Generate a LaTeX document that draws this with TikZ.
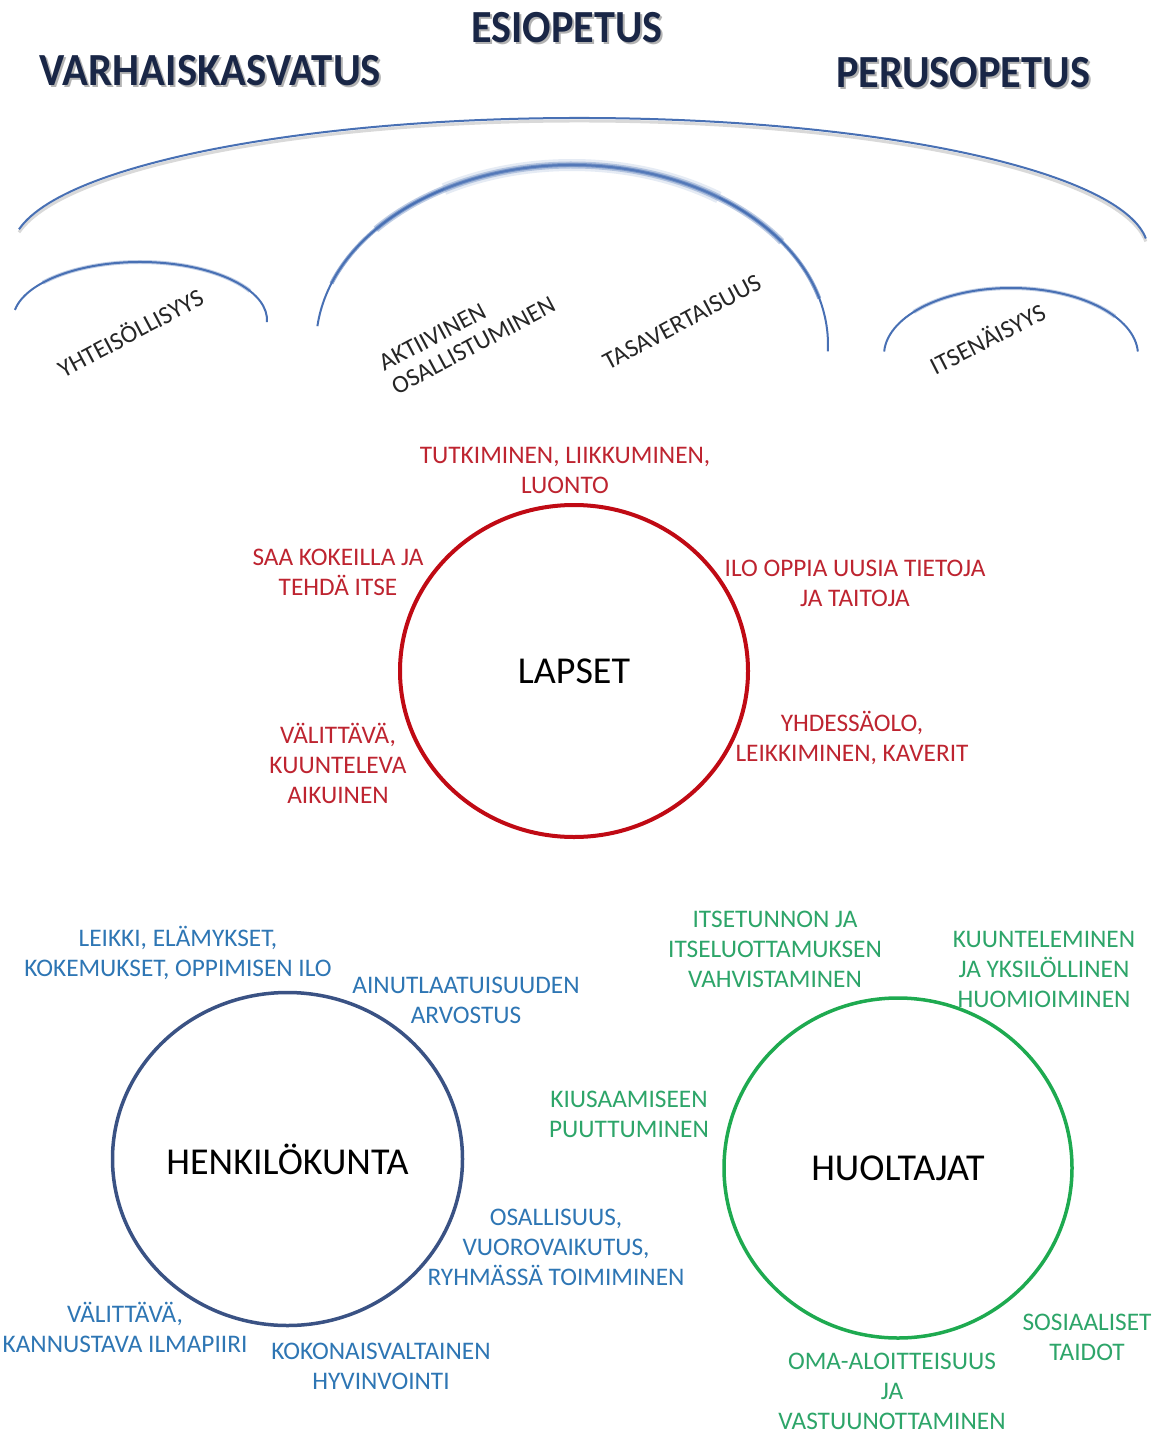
\documentclass[tikz,border=0pt]{standalone}
\usepackage{fontspec}
\setmainfont{Carlito}
\usetikzlibrary{shapes.geometric}
\definecolor{navy}{RGB}{25,38,70}
\definecolor{arcblue}{RGB}{72,112,180}
\definecolor{lred}{RGB}{190,36,48}
\definecolor{cred}{RGB}{192,10,20}
\definecolor{cnavy}{RGB}{58,82,132}
\definecolor{lblue}{RGB}{46,118,180}
\definecolor{cgreen}{RGB}{30,170,80}
\definecolor{lgreen}{RGB}{45,165,105}
\tikzset{
  lbl/.style={font=\fontsize{25.3}{30}\selectfont, align=center, inner sep=0pt},
  redlbl/.style={lbl, text=lred},
  bluelbl/.style={lbl, text=lblue},
  greenlbl/.style={lbl, text=lgreen},
  rotlbl/.style={font=\fontsize{25}{27}\selectfont, inner sep=0pt, text=black!85, rotate=28},
  title/.style={font=\fontsize{46}{50}\selectfont\bfseries, text=navy, inner sep=0pt, anchor=base},
  tshadow/.style={font=\fontsize{46}{50}\selectfont\bfseries, text=black, opacity=0.3, inner sep=0pt, anchor=base},
  hub/.style={ellipse, inner sep=0pt, font=\fontsize{38}{42}\selectfont, text=black},
  thinarc/.style={arcblue, line width=2pt},
}
\begin{document}
\begin{tikzpicture}[x=1pt,y=1pt]
\clip (0,0) rectangle (1153,-1439);
\fill[white] (0,0) rectangle (1153,-1439);

% titles
\node[tshadow] (esiS) at (569,-45) {\resizebox{191pt}{\height}{ESIOPETUS}};
\node[title] (esi) at (567,-43) {\resizebox{191pt}{\height}{ESIOPETUS}};
\node[tshadow] (varS) at (212.5,-88) {\resizebox{341pt}{\height}{VARHAISKASVATUS}};
\node[title] (var) at (210.5,-86) {\resizebox{341pt}{\height}{VARHAISKASVATUS}};
\node[tshadow] (perS) at (965,-90) {\resizebox{254pt}{\height}{PERUSOPETUS}};
\node[title] (per) at (963,-88) {\resizebox{254pt}{\height}{PERUSOPETUS}};

% outer arc
\draw[black, opacity=0.15, line width=3pt] ([shift={(580,-253)}]171:568 and 132) arc[start angle=171, end angle=5, x radius=568, y radius=132];
\draw[thinarc] ([shift={(580,-250)}]171:568 and 132) arc[start angle=171, end angle=5, x radius=568, y radius=132];

% middle arc (thick, blurred)
\draw[arcblue, line width=2pt] ([shift={(572,-345)}]174:256 and 180) arc[start angle=174, end angle=-2, x radius=256, y radius=180];
\draw[arcblue, line width=4pt, opacity=0.6] ([shift={(572,-345)}]160:256 and 180) arc[start angle=160, end angle=15, x radius=256, y radius=180];
\draw[arcblue, line width=7pt, opacity=0.35] ([shift={(572,-345)}]140:256 and 180) arc[start angle=140, end angle=35, x radius=256, y radius=180];
\draw[arcblue!70, line width=12pt, opacity=0.2] ([shift={(572,-345)}]120:256 and 180) arc[start angle=120, end angle=55, x radius=256, y radius=180];

% small left arc
\draw[thinarc] ([shift={(140,-320)}]170:127 and 58) arc[start angle=170, end angle=-2, x radius=127, y radius=58];
\draw[arcblue, line width=4pt, opacity=0.35] ([shift={(140,-320)}]140:127 and 58) arc[start angle=140, end angle=30, x radius=127, y radius=58];
% small right arc
\draw[thinarc] ([shift={(1011,-355)}]177:127 and 67) arc[start angle=177, end angle=3, x radius=127, y radius=67];
\draw[arcblue, line width=4pt, opacity=0.35] ([shift={(1011,-355)}]140:127 and 67) arc[start angle=140, end angle=35, x radius=127, y radius=67];

% rotated labels
\node[rotlbl] (yht) at (130,-332) {YHTEISÖLLISYYS};
\node[rotlbl, align=left] (akt) at (467,-334) {AKTIIVINEN\\OSALLISTUMINEN};
\node[rotlbl] (tasa) at (682,-322) {TASAVERTAISUUS};
\node[rotlbl, rotate=-1] (itse) at (987,-338) {ITSENÄISYYS};

% LAPSET
\node[hub, draw=cred, line width=4pt, minimum width=348pt, minimum height=332pt] (lapset) at (574,-671) {LAPSET};
\node[redlbl] (l1) at (565,-470) {TUTKIMINEN, LIIKKUMINEN,\\LUONTO};
\node[redlbl] (l2) at (338,-572) {SAA KOKEILLA JA\\TEHDÄ ITSE};
\node[redlbl] (l3) at (855,-583) {ILO OPPIA UUSIA TIETOJA\\JA TAITOJA};
\node[redlbl] (l4) at (338,-763) {VÄLITTÄVÄ,\\KUUNTELEVA\\AIKUINEN};
\node[redlbl] (l5) at (852,-738) {YHDESSÄOLO,\\LEIKKIMINEN, KAVERIT};

% HENKILÖKUNTA
\node[hub, draw=cnavy, line width=3.5pt, minimum width=350pt, minimum height=333pt] (henk) at (287.5,-1159) {HENKILÖKUNTA};
\node[bluelbl] (h1) at (178,-953) {LEIKKI, ELÄMYKSET,\\KOKEMUKSET, OPPIMISEN ILO};
\node[bluelbl] (h2) at (466,-1000) {AINUTLAATUISUUDEN\\ARVOSTUS};
\node[bluelbl] (h3) at (556,-1247) {OSALLISUUS,\\VUOROVAIKUTUS,\\RYHMÄSSÄ TOIMIMINEN};
\node[bluelbl] (h4) at (125,-1327) {VÄLITTÄVÄ,\\KANNUSTAVA ILMAPIIRI};
\node[bluelbl] (h5) at (381,-1366) {KOKONAISVALTAINEN\\HYVINVOINTI};

% HUOLTAJAT
\node[hub, draw=cgreen, line width=3.5pt, minimum width=348pt, minimum height=340pt] (huol) at (898,-1168) {HUOLTAJAT};
\node[greenlbl] (g1) at (775,-949) {ITSETUNNON JA\\ITSELUOTTAMUKSEN\\VAHVISTAMINEN};
\node[greenlbl] (g2) at (1044,-969) {KUUNTELEMINEN\\JA YKSILÖLLINEN\\HUOMIOIMINEN};
\node[greenlbl] (g3) at (629,-1114) {KIUSAAMISEEN\\PUUTTUMINEN};
\node[greenlbl] (g4) at (1087,-1337) {SOSIAALISET\\TAIDOT};
\node[greenlbl] (g5) at (892,-1391) {OMA-ALOITTEISUUS\\JA\\VASTUUNOTTAMINEN};
\end{tikzpicture}
\end{document}
